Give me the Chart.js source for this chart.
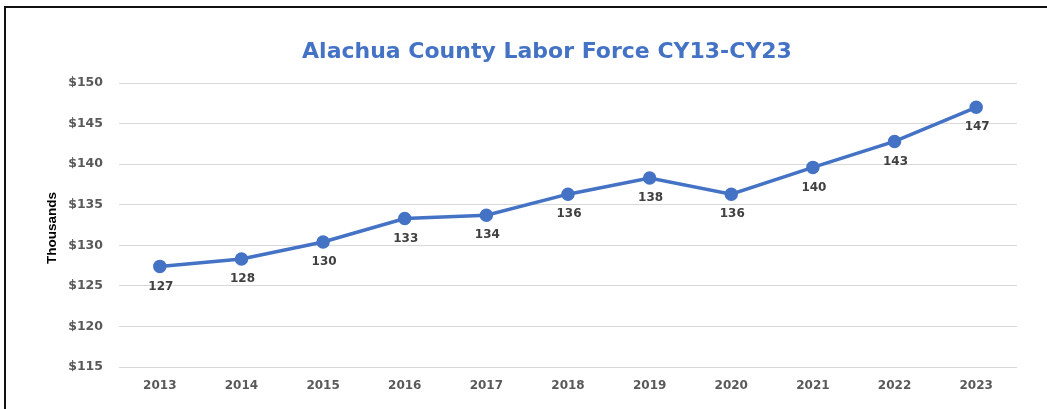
<!DOCTYPE html>
<html>
<head>
<meta charset="utf-8">
<script src="https://cdn.jsdelivr.net/npm/chart.js@4"></script>
<style>
  html, body { margin: 0; padding: 0; background: #fff; }
  #wrap { position: relative; width: 1047px; height: 409px; overflow: hidden; }
  #frame { position: absolute; left: 4px; top: 6px; width: 1100px; height: 500px;
           border-left: 2px solid #111; border-top: 2px solid #111; pointer-events: none; }
  canvas { position: absolute; left: 0; top: 0; }
</style>
</head>
<body>
<div id="wrap">
  <canvas id="c" width="1047" height="409"></canvas>
  <div id="frame"></div>
</div>
<script>
const years = ['2013','2014','2015','2016','2017','2018','2019','2020','2021','2022','2023'];
const laborForce = [127.4, 128.3, 130.4, 133.3, 133.7, 136.3, 138.3, 136.3, 139.6, 142.8, 147.0];
const labelText = ['127','128','130','133','134','136','138','136','140','143','147'];
const yMin = 115, yMax = 150, yStep = 5;
const titleText = 'Alachua County Labor Force CY13-CY23';
const yAxisTitle = 'Thousands';

const blue = '#4472C4';

const textPlugin = {
  id: 'textPlugin',
  afterDraw(chart) {
    const ctx = chart.ctx;
    ctx.save();
    // chart title
    ctx.font = 'bold 22px "DejaVu Sans"';
    ctx.fillStyle = blue;
    ctx.textAlign = 'center';
    ctx.textBaseline = 'middle';
    ctx.fillText(titleText, 547, 52);
    // axis title
    ctx.translate(52, 228);
    ctx.rotate(-Math.PI / 2);
    ctx.font = 'bold 13.5px "Liberation Sans"';
    ctx.fillStyle = '#000';
    ctx.fillText(yAxisTitle, 0, 0);
    ctx.restore();
  },
  afterDatasetsDraw(chart) {
    const ctx = chart.ctx;
    const meta = chart.getDatasetMeta(0);
    ctx.save();
    ctx.font = 'bold 12px "DejaVu Sans"';
    ctx.fillStyle = '#404040';
    ctx.textAlign = 'center';
    ctx.textBaseline = 'middle';
    meta.data.forEach((pt, i) => {
      ctx.fillText(labelText[i], pt.x + 1, pt.y + 20);
    });
    ctx.restore();
  }
};

new Chart(document.getElementById('c'), {
  type: 'line',
  data: {
    labels: years,
    datasets: [{
      data: laborForce,
      borderColor: blue,
      backgroundColor: blue,
      borderWidth: 3.5,
      pointRadius: 5,
      pointHoverRadius: 5,
      pointBackgroundColor: blue,
      pointBorderColor: blue,
      tension: 0,
      fill: false
    }]
  },
  options: {
    responsive: false,
    animation: false,
    devicePixelRatio: 1,
    layout: { padding: { top: 83, left: 0, right: 30, bottom: 0 } },
    plugins: {
      legend: { display: false },
      tooltip: { enabled: false },
      title: { display: false }
    },
    scales: {
      x: {
        offset: true,
        grid: { display: false },
        border: { display: false },
        ticks: {
          color: '#595959',
          font: { family: '"DejaVu Sans"', size: 12, weight: 'bold' },
          padding: 4,
          maxRotation: 0
        },
        afterFit(scale) { scale.height = 42; }
      },
      y: {
        min: yMin,
        max: yMax,
        border: { display: false },
        grid: { color: '#d9d9d9', lineWidth: 1, drawTicks: false },
        ticks: {
          stepSize: yStep,
          color: '#595959',
          font: { family: '"DejaVu Sans"', size: 12.5, weight: 'bold' },
          padding: 16,
          callback: v => '$' + v
        },
        afterFit(scale) { scale.width = 119; }
      }
    }
  },
  plugins: [textPlugin]
});
</script>
</body>
</html>
